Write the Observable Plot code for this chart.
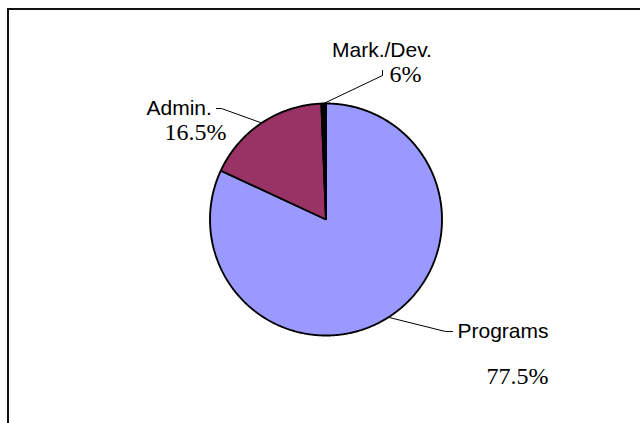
<!DOCTYPE html>
<html><head><meta charset="utf-8">
<script src="https://cdn.jsdelivr.net/npm/d3@7"></script>
<script src="https://cdn.jsdelivr.net/npm/@observablehq/plot@0.6"></script>
<style>
body{margin:0;background:#fff;}
#wrap{position:relative;width:640px;height:423px;overflow:hidden;background:#fff;}
#wrap svg{position:absolute;left:0;top:0;}
#border{position:absolute;left:7px;top:8px;width:800px;height:800px;border-left:2px solid #111;border-top:2px solid #111;pointer-events:none;}
</style></head><body><div id="wrap"></div>
<script>
// ---- data ----
const categories = ["Programs", "Admin.", "Mark./Dev."];
const values = [77.5, 16.5, 0.6];
const valueLabels = ["77.5%", "16.5%", "6%"];
const colors = ["#9999FF", "#993366", "#000000"];

// ---- layout (pixels in the 640x423 frame) ----
const CX = 325.5, CY = 219, R = 116;
const nameAnchor = [[457, 337], [146, 114], [331.5, 56]];
const valueAnchor = [[486, 383], [164, 139], [389, 81]];
const leaderElbow = [[[445, 331], [452, 331]], [[221, 108], [216, 108]], [[382, 75], [382, 70]]];

const toX = px => (px - CX) / R;
const toY = py => (CY - py) / R;

const data = categories.map((c, i) => ({category: c, value: values[i], label: valueLabels[i], color: colors[i]}));
const arcs = d3.pie().sort(null).value(d => d.value)(data);

// slice outlines (geometry sampled along the arc)
const slicePts = [];
arcs.forEach((a, i) => {
  slicePts.push({k: i, x: 0, y: 0});
  const n = Math.max(2, Math.ceil((a.endAngle - a.startAngle) / (Math.PI / 360)));
  for (let j = 0; j <= n; j++) {
    const t = a.startAngle + (a.endAngle - a.startAngle) * j / n;
    slicePts.push({k: i, x: Math.sin(t), y: Math.cos(t)});
  }
});

// leader lines: from rim at slice mid-angle to label elbow
const leaderPts = [];
arcs.forEach((a, i) => {
  const m = (a.startAngle + a.endAngle) / 2;
  leaderPts.push({k: i, x: Math.sin(m), y: Math.cos(m)});
  leaderElbow[i].forEach(p => leaderPts.push({k: i, x: toX(p[0]), y: toY(p[1])}));
});

const names = data.map((d, i) => ({text: d.category, x: toX(nameAnchor[i][0]), y: toY(nameAnchor[i][1])}));
const vals = data.map((d, i) => ({text: d.label, x: toX(valueAnchor[i][0]), y: toY(valueAnchor[i][1])}));

const chart = Plot.plot({
  width: 640,
  height: 423,
  style: {background: "transparent"},
  x: {domain: [-1, 1], range: [CX - R, CX + R], axis: null},
  y: {domain: [-1, 1], range: [CY + R, CY - R], axis: null},
  marks: [
    Plot.line(leaderPts, {x: "x", y: "y", z: "k", stroke: "#000", strokeWidth: 1}),
    Plot.line(slicePts, {x: "x", y: "y", z: "k", curve: "linear-closed",
      fill: d => colors[d.k], stroke: "#000", strokeWidth: 1.9, strokeLinejoin: "miter"}),
    Plot.text(names, {x: "x", y: "y", text: "text", textAnchor: "start", lineAnchor: "bottom",
      fontFamily: "Liberation Sans, Arial, sans-serif", fontSize: 21, fill: "#000"}),
    Plot.text(vals, {x: "x", y: "y", text: "text", textAnchor: "start", lineAnchor: "bottom",
      fontFamily: "Liberation Serif, Times New Roman, serif", fontSize: 24, fill: "#000"})
  ]
});
const wrap = document.getElementById("wrap");
wrap.appendChild(chart);
const b = document.createElement("div");
b.id = "border";
wrap.appendChild(b);
</script>
</body></html>
